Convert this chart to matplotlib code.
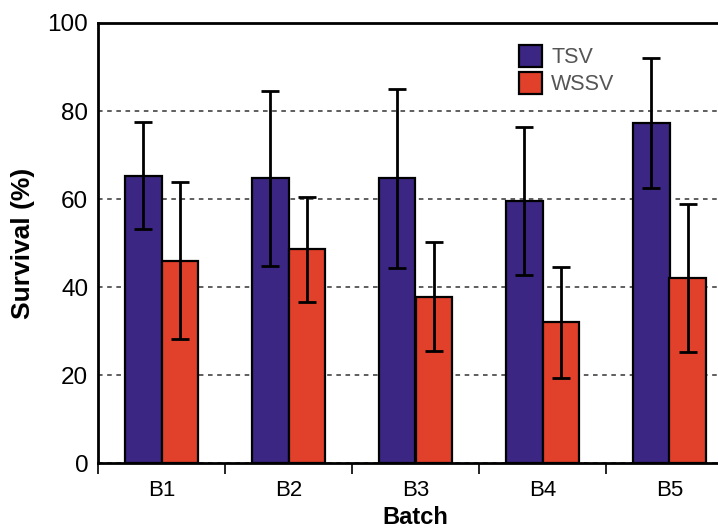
import numpy as np
import matplotlib.pyplot as plt
from matplotlib.ticker import FixedLocator, NullFormatter

batches = ["B1", "B2", "B3", "B4", "B5"]
tsv = [65.3, 64.7, 64.7, 59.5, 77.3]
tsv_err = [12.1, 19.9, 20.3, 16.8, 14.8]
wssv = [46.0, 48.6, 37.8, 32.0, 42.0]
wssv_err = [17.9, 11.9, 12.4, 12.6, 16.8]

plt.rcParams["font.family"] = ["Liberation Sans", "DejaVu Sans"]

fig = plt.figure(figsize=(7.18, 5.31), dpi=100)
# right side of the original is cut off, so let the axes run past the edge
ax = fig.add_axes([98 / 718, 68 / 531, 635 / 718, 440 / 531])

x = np.arange(len(batches))
w = 0.29
err_kw = dict(ecolor="black", elinewidth=2.0, capsize=6.5, capthick=2.0)
ax.bar(x - w / 2, tsv, w, yerr=tsv_err, color="#3b2683", edgecolor="black",
       linewidth=1.6, label="TSV", error_kw=err_kw, zorder=3)
ax.bar(x + w / 2, wssv, w, yerr=wssv_err, color="#e1402a", edgecolor="black",
       linewidth=1.6, label="WSSV", error_kw=err_kw, zorder=3)

ax.set_xlim(-0.5, len(batches) - 0.5)
ax.set_ylim(0, 100)
ax.set_yticks([0, 20, 40, 60, 80, 100])
ax.yaxis.grid(True, linestyle=(0, (3, 3)), color="#333333", linewidth=1.1, zorder=0)
ax.tick_params(axis="y", length=0, labelsize=17.5, pad=7)

# tick marks between batches, labels under the groups
ax.xaxis.set_major_locator(FixedLocator(np.arange(len(batches) + 1) - 0.5))
ax.xaxis.set_major_formatter(NullFormatter())
ax.xaxis.set_minor_locator(FixedLocator(x))
ax.set_xticklabels(batches, minor=True)
ax.tick_params(axis="x", which="major", length=8, width=1.2, direction="out")
ax.tick_params(axis="x", which="minor", length=0, labelsize=16, pad=12)

for s in ax.spines.values():
    s.set_linewidth(2.0)
ax.spines["right"].set_visible(False)

ax.set_ylabel("Survival (%)", fontsize=19, fontweight="bold", labelpad=9)
ax.set_xlabel("Batch", fontsize=17, fontweight="bold", labelpad=4)

leg = fig.legend(loc="upper left", bbox_to_anchor=(504 / 718, 1 - 30 / 531),
                 frameon=False, borderpad=0.2, fontsize=15.5, handlelength=1.05,
                 handleheight=1.2, handletextpad=0.45, labelspacing=0.15,
                 labelcolor="#555555")

fig.savefig("out.png", dpi=100)
